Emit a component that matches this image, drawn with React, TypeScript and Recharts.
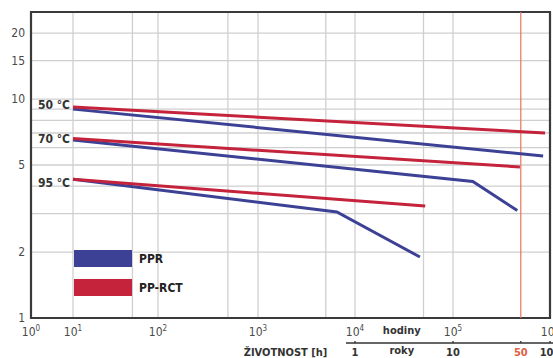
import React from 'react';
import {
  LineChart,
  Line,
  XAxis,
  YAxis,
  CartesianGrid,
  ReferenceLine,
  ReferenceArea,
  ReferenceDot,
  Legend,
} from 'recharts';

// ---- data ----
const HOUR_TICKS = [1, 10, 50, 100, 500, 1000, 5000, 10000, 50000, 100000, 1000000];
const Y_TICKS = [1, 2, 3, 4, 5, 6, 7, 8, 9, 10, 15, 20];
const Y_LABELS = [1, 2, 5, 10, 15, 20];
const YEAR_TICKS = [1e4, 3e4, 1e5, 5e5, 1e6];
const YEAR_LABELS = ['1', 'roky', '10', '50', '100'];
const LIFETIME_50Y = 5e5;
const LEGEND_ORDER = ['PPR', 'PP-RCT'];

const ppr50 = [{ h: 10, v: 9.0 }, { h: 8.5e5, v: 5.5 }];
const rct50 = [{ h: 10, v: 9.2 }, { h: 8.9e5, v: 7.0 }];
const ppr70 = [{ h: 10, v: 6.5 }, { h: 1.6e5, v: 4.2 }, { h: 4.6e5, v: 3.1 }];
const rct70 = [{ h: 10, v: 6.6 }, { h: 4.9e5, v: 4.9 }];
const ppr95 = [{ h: 10, v: 4.3 }, { h: 6.5e3, v: 3.05 }, { h: 4.6e4, v: 1.9 }];
const rct95 = [{ h: 10, v: 4.3 }, { h: 5.2e4, v: 3.25 }];

const TEMP_LABELS = ['50 °C', '70 °C', '95 °C'];
const TEMP_LABEL_V = [9.4, 6.57, 4.13];

// relative widths of the chart's (uneven) decades 10^0 .. 10^6
const DECADE_STOPS = [0, 42, 127, 227, 324, 422, 519];

const BLUE = '#3c4195';
const RED = '#c4233b';
const FONT = "'Liberation Sans Narrow', 'DejaVu Sans Condensed', 'Open Sans', sans-serif";

function makeDecadeScale(dom: number[] = [1, 1e6], rng: number[] = [0, 1]): any {
  let d = dom;
  let r = rng;
  const n = DECADE_STOPS.length - 1;
  const s: any = (v: number) => {
    const l = Math.log10(v);
    let i = Math.floor(l);
    if (i < 0) i = 0;
    if (i > n - 1) i = n - 1;
    const f = (DECADE_STOPS[i] + (l - i) * (DECADE_STOPS[i + 1] - DECADE_STOPS[i])) / DECADE_STOPS[n];
    return r[0] + f * (r[1] - r[0]);
  };
  s.domain = (x?: number[]) => {
    if (x === undefined) return d;
    d = x;
    return s;
  };
  s.range = (x?: number[]) => {
    if (x === undefined) return r;
    r = x;
    return s;
  };
  s.copy = () => makeDecadeScale(d, r);
  s.ticks = () => HOUR_TICKS;
  s.invert = (px: number) => {
    const f = ((px - r[0]) / (r[1] - r[0])) * DECADE_STOPS[n];
    let i = 0;
    while (i < n - 1 && f > DECADE_STOPS[i + 1]) i++;
    const l = i + (f - DECADE_STOPS[i]) / (DECADE_STOPS[i + 1] - DECADE_STOPS[i]);
    return Math.pow(10, l);
  };
  s.clamp = () => s;
  return s;
}

const HourTick = (props: any) => {
  const { x, y, payload } = props;
  const v = payload.value;
  const e = Math.round(Math.log10(v));
  if (Math.abs(Math.pow(10, e) - v) > 1e-6) return <g />;
  return (
    <text x={x} y={y + 16} textAnchor="middle" fill="#4a4a4a" fontSize={12} fontFamily={FONT}>
      <tspan>10</tspan>
      <tspan dy={-5} fontSize={8}>{e}</tspan>
    </text>
  );
};

const YearTick = (props: any) => {
  const { x, y, payload, index } = props;
  const label = YEAR_LABELS[index] ?? '';
  if (label === 'roky') {
    return (
      <g fontFamily={FONT} fontSize={11} fill="#333">
        <text x={x} y={y - 4} textAnchor="middle" fontWeight="bold">hodiny</text>
        <text x={x} y={y + 16} textAnchor="middle" fontWeight="bold">roky</text>
      </g>
    );
  }
  const isFifty = payload.value === LIFETIME_50Y;
  return (
    <g fontFamily={FONT}>
      {index === 0 && <line x1={x - 9} x2={x + 198} y1={y + 5} y2={y + 5} stroke="#333" strokeWidth={1.3} />}
      <line x1={x} x2={x} y1={y + 3} y2={y + 5} stroke="#333" strokeWidth={1.3} />
      <text x={x} y={y + 18} textAnchor="middle" fontSize={11} fontWeight="bold" fill={isFifty ? '#e0603f' : '#333'}>
        {label}
      </text>
    </g>
  );
};

const renderLegend = (props: any) => {
  const seen: string[] = [];
  const items = (props.payload || [])
    .filter((p: any) => {
      if (seen.includes(p.value)) return false;
      seen.push(p.value);
      return true;
    })
    .sort((a: any, b: any) => LEGEND_ORDER.indexOf(a.value) - LEGEND_ORDER.indexOf(b.value));
  return (
    <div style={{ fontFamily: FONT }}>
      {items.map((p: any) => (
        <div key={p.value} style={{ display: 'flex', alignItems: 'center', height: 17, marginBottom: 12 }}>
          <div style={{ width: 58, height: 17, background: p.color }} />
          <span style={{ marginLeft: 7, fontSize: 12, fontWeight: 'bold', color: '#222' }}>{p.value}</span>
        </div>
      ))}
    </div>
  );
};

export default function App() {
  const hourScale = makeDecadeScale();
  const yearScale = makeDecadeScale();
  return (
    <div style={{ position: 'absolute', left: 0, top: 0, width: 553, height: 358, background: '#fff' }}>
      <LineChart width={553} height={358} margin={{ top: 12, right: 3, bottom: 0, left: 0 }}>
        <CartesianGrid xAxisId="h" stroke="#cfcfcf" strokeWidth={1.3} />
        <XAxis
          xAxisId="h"
          dataKey="h"
          type="number"
          scale={hourScale}
          domain={[1, 1e6]}
          ticks={HOUR_TICKS}
          allowDataOverflow
          height={18}
          axisLine={false}
          tickLine={false}
          tickSize={0}
          tick={<HourTick />}
          interval={0}
        />
        <XAxis
          xAxisId="y"
          dataKey="h"
          type="number"
          scale={yearScale}
          domain={[1, 1e6]}
          ticks={YEAR_TICKS}
          allowDataOverflow
          height={22}
          axisLine={false}
          tickLine={false}
          tickSize={0}
          tick={<YearTick />}
          interval={0}
          label={{ value: 'ŽIVOTNOST [h]', position: 'insideBottom', offset: 2, fontSize: 11, fontWeight: 'bold', fill: '#333', fontFamily: FONT, dx: -5 }}
        />
        <YAxis
          dataKey="v"
          type="number"
          scale="log"
          domain={[1, 25]}
          ticks={Y_TICKS}
          allowDataOverflow
          width={31}
          axisLine={false}
          tickLine={false}
          tickSize={0}
          tickMargin={6}
          interval={0}
          tick={{ fill: '#4a4a4a', fontSize: 12, fontFamily: FONT }}
          tickFormatter={(v: number) => (Y_LABELS.includes(v) ? String(v) : '')}
        />
        <ReferenceLine xAxisId="h" x={LIFETIME_50Y} stroke="#e8735a" strokeWidth={1.2} />
        <ReferenceArea
          xAxisId="h"
          x1={1}
          x2={1e6}
          y1={1}
          y2={25}
          fill="none"
          fillOpacity={0}
          stroke="#3a3a3a"
          strokeWidth={2.2}
          ifOverflow="visible"
        />
        <Line xAxisId="h" data={ppr50} dataKey="v" name="PPR" stroke={BLUE} strokeWidth={3} dot={false} isAnimationActive={false} />
        <Line xAxisId="h" data={rct50} dataKey="v" name="PP-RCT" stroke={RED} strokeWidth={3} dot={false} isAnimationActive={false} />
        <Line xAxisId="h" data={ppr70} dataKey="v" name="PPR" stroke={BLUE} strokeWidth={3} dot={false} isAnimationActive={false} legendType="none" />
        <Line xAxisId="h" data={rct70} dataKey="v" name="PP-RCT" stroke={RED} strokeWidth={3} dot={false} isAnimationActive={false} legendType="none" />
        <Line xAxisId="h" data={ppr95} dataKey="v" name="PPR" stroke={BLUE} strokeWidth={3} dot={false} isAnimationActive={false} legendType="none" />
        <Line xAxisId="h" data={rct95} dataKey="v" name="PP-RCT" stroke={RED} strokeWidth={3} dot={false} isAnimationActive={false} legendType="none" />
        {TEMP_LABELS.map((t, i) => (
          <ReferenceDot
            key={t}
            xAxisId="h"
            x={10}
            y={TEMP_LABEL_V[i]}
            r={0}
            fill="none"
            stroke="none"
            label={{ value: t, position: 'left', offset: 3, fill: '#333', fontSize: 12, fontWeight: 'bold', fontFamily: FONT }}
          />
        ))}
        <Legend
          layout="horizontal"
          verticalAlign="middle"
          align="center"
          wrapperStyle={{ left: 74, top: 250, width: 140, height: 60 }}
          content={renderLegend}
        />
      </LineChart>
    </div>
  );
}
